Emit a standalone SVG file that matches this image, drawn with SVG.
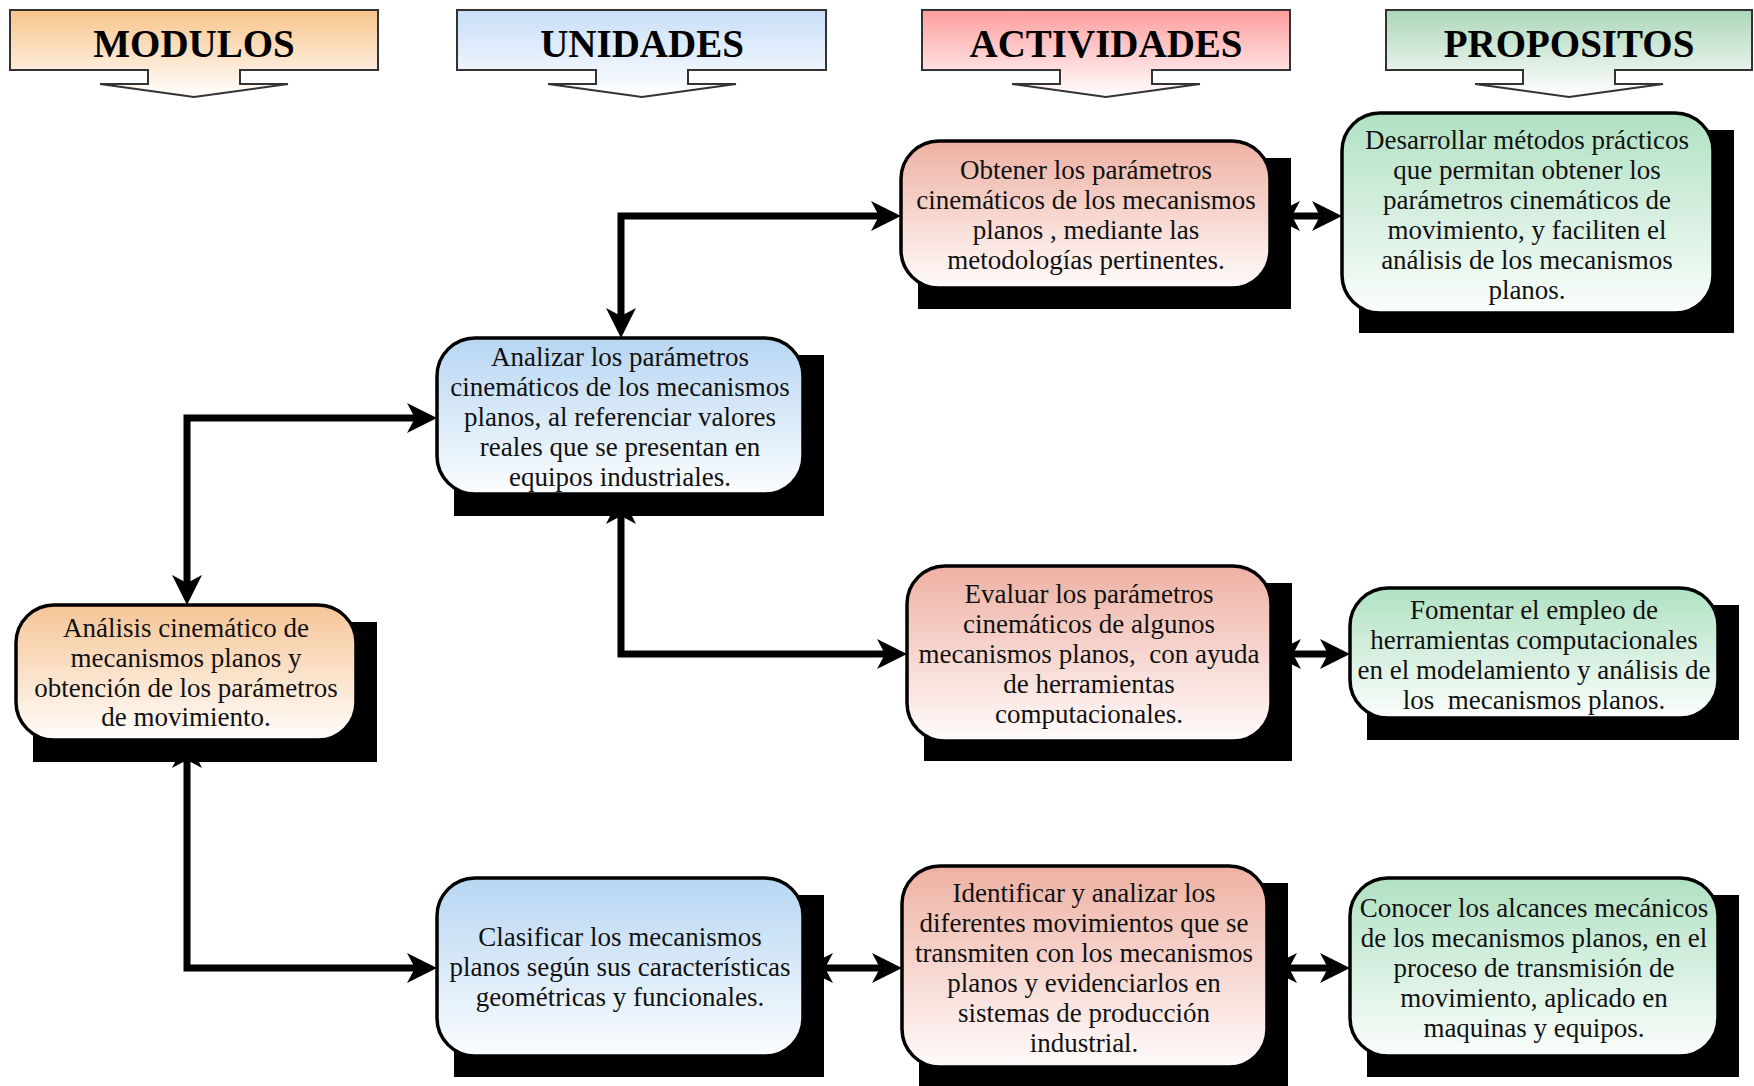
<svg xmlns="http://www.w3.org/2000/svg" width="1754" height="1086" viewBox="0 0 1754 1086">
<style>
.hdr{stroke:#333;stroke-width:2}
.ht{font-family:"Liberation Serif",serif;font-weight:bold;font-size:39px;fill:#000;text-anchor:middle}
.sh{fill:#000}
.nd{stroke:#000;stroke-width:3.5}
.t{font-family:"Liberation Serif",serif;font-size:27px;fill:#111;text-anchor:middle;white-space:pre}
.cn{fill:none;stroke:#000;stroke-width:7;stroke-linejoin:miter}
</style>
<defs>
<linearGradient id="gO" x1="0" y1="0" x2="0" y2="1"><stop offset="0" stop-color="#f8c48a"/><stop offset="1" stop-color="#ffffff"/></linearGradient>
<linearGradient id="gB" x1="0" y1="0" x2="0" y2="1"><stop offset="0" stop-color="#c8def8"/><stop offset="1" stop-color="#ffffff"/></linearGradient>
<linearGradient id="gR" x1="0" y1="0" x2="0" y2="1"><stop offset="0" stop-color="#ff9d9d"/><stop offset="1" stop-color="#ffffff"/></linearGradient>
<linearGradient id="gG" x1="0" y1="0" x2="0" y2="1"><stop offset="0" stop-color="#acd6b9"/><stop offset="1" stop-color="#ffffff"/></linearGradient>
<linearGradient id="nO" x1="0" y1="0" x2="0" y2="1"><stop offset="0" stop-color="#f6c597"/><stop offset="1" stop-color="#fffdfb"/></linearGradient>
<linearGradient id="nB" x1="0" y1="0" x2="0" y2="1"><stop offset="0" stop-color="#b7d6f2"/><stop offset="1" stop-color="#fbfdff"/></linearGradient>
<linearGradient id="nR" x1="0" y1="0" x2="0" y2="1"><stop offset="0" stop-color="#eeb1a3"/><stop offset="1" stop-color="#fffbfb"/></linearGradient>
<linearGradient id="nG" x1="0" y1="0" x2="0" y2="1"><stop offset="0" stop-color="#b0e1c3"/><stop offset="1" stop-color="#fbfefc"/></linearGradient>
<marker id="ah" viewBox="-10 -17 34 34" refX="0" refY="0" markerWidth="34" markerHeight="34" markerUnits="userSpaceOnUse" orient="auto-start-reverse">
<path d="M-8,-15 L22,0 L-8,15 L0,0 Z" fill="#000"/>
</marker>
</defs>
<rect width="1754" height="1086" fill="#fff"/>

<g id="headers">
<g id="h-modulos">
<path class="hdr" fill="url(#gO)" d="M10,10 H378 V70 H240 V84 H288 L194,97 L100,84 H148 V70 H10 Z"/>
<text class="ht" x="194" y="57">MODULOS</text>
</g>
<g id="h-unidades">
<path class="hdr" fill="url(#gB)" d="M457,10 H826 V70 H688 V84 H736 L642,97 L548,84 H596 V70 H457 Z"/>
<text class="ht" x="642" y="57">UNIDADES</text>
</g>
<g id="h-actividades">
<path class="hdr" fill="url(#gR)" d="M922,10 H1290 V70 H1152 V84 H1200 L1106,97 L1012,84 H1060 V70 H922 Z"/>
<text class="ht" x="1106" y="57">ACTIVIDADES</text>
</g>
<g id="h-propositos">
<path class="hdr" fill="url(#gG)" d="M1386,10 H1752 V70 H1615 V84 H1663 L1569,97 L1475,84 H1523 V70 H1386 Z"/>
<text class="ht" x="1569" y="57">PROPOSITOS</text>
</g>
</g>

<g id="connectors">
<path class="cn" d="M187,583 L187,418 L415,418" marker-start="url(#ah)" marker-end="url(#ah)"/>
<path class="cn" d="M621,316 L621,216 L879,216" marker-start="url(#ah)" marker-end="url(#ah)"/>
<path class="cn" d="M621,516 L621,654 L885,654" marker-start="url(#ah)" marker-end="url(#ah)"/>
<path class="cn" d="M187,760 L187,968 L415,968" marker-start="url(#ah)" marker-end="url(#ah)"/>
<path class="cn" d="M1292,216 L1320,216" marker-start="url(#ah)" marker-end="url(#ah)"/>
<path class="cn" d="M1293,654 L1328,654" marker-start="url(#ah)" marker-end="url(#ah)"/>
<path class="cn" d="M825,968 L880,968" marker-start="url(#ah)" marker-end="url(#ah)"/>
<path class="cn" d="M1289,968 L1328,968" marker-start="url(#ah)" marker-end="url(#ah)"/>
</g>

<g id="n-analisis">
<rect class="sh" x="33" y="622" width="344" height="140"/>
<rect class="nd" x="16" y="605" width="340" height="135" rx="38" fill="url(#nO)"/>
<text class="t" x="186" y="637">Análisis cinemático de</text>
<text class="t" x="186" y="667">mecanismos planos y</text>
<text class="t" x="186" y="697">obtención de los parámetros</text>
<text class="t" x="186" y="726">de movimiento.</text>
</g>

<g id="n-analizar">
<rect class="sh" x="454" y="355" width="370" height="161"/>
<rect class="nd" x="437" y="338" width="366" height="156" rx="38" fill="url(#nB)"/>
<text class="t" x="620" y="366">Analizar los parámetros</text>
<text class="t" x="620" y="396">cinemáticos de los mecanismos</text>
<text class="t" x="620" y="426">planos, al referenciar valores</text>
<text class="t" x="620" y="456">reales que se presentan en</text>
<text class="t" x="620" y="486">equipos industriales.</text>
</g>

<g id="n-clasificar">
<rect class="sh" x="454" y="895" width="370" height="182"/>
<rect class="nd" x="437" y="878" width="366" height="178" rx="38" fill="url(#nB)"/>
<text class="t" x="620" y="946">Clasificar los mecanismos</text>
<text class="t" x="620" y="976">planos según sus características</text>
<text class="t" x="620" y="1006">geométricas y funcionales.</text>
</g>

<g id="n-obtener">
<rect class="sh" x="918" y="158" width="373" height="151"/>
<rect class="nd" x="901" y="141" width="369" height="147" rx="38" fill="url(#nR)"/>
<text class="t" x="1086" y="179">Obtener los parámetros</text>
<text class="t" x="1086" y="209">cinemáticos de los mecanismos</text>
<text class="t" x="1086" y="239">planos , mediante las</text>
<text class="t" x="1086" y="269">metodologías pertinentes.</text>
</g>

<g id="n-evaluar">
<rect class="sh" x="924" y="583" width="368" height="178"/>
<rect class="nd" x="907" y="566" width="364" height="175" rx="38" fill="url(#nR)"/>
<text class="t" x="1089" y="603">Evaluar los parámetros</text>
<text class="t" x="1089" y="633">cinemáticos de algunos</text>
<text class="t" x="1089" y="663">mecanismos planos,  con ayuda</text>
<text class="t" x="1089" y="693">de herramientas</text>
<text class="t" x="1089" y="723">computacionales.</text>
</g>

<g id="n-identificar">
<rect class="sh" x="919" y="883" width="369" height="203"/>
<rect class="nd" x="902" y="866" width="365" height="201" rx="38" fill="url(#nR)"/>
<text class="t" x="1084" y="902">Identificar y analizar los</text>
<text class="t" x="1084" y="932">diferentes movimientos que se</text>
<text class="t" x="1084" y="962">transmiten con los mecanismos</text>
<text class="t" x="1084" y="992">planos y evidenciarlos en</text>
<text class="t" x="1084" y="1022">sistemas de producción</text>
<text class="t" x="1084" y="1052">industrial.</text>
</g>

<g id="n-desarrollar">
<rect class="sh" x="1359" y="130" width="375" height="203"/>
<rect class="nd" x="1342" y="113" width="371" height="200" rx="38" fill="url(#nG)"/>
<text class="t" x="1527" y="149">Desarrollar métodos prácticos</text>
<text class="t" x="1527" y="179">que permitan obtener los</text>
<text class="t" x="1527" y="209">parámetros cinemáticos de</text>
<text class="t" x="1527" y="239">movimiento, y faciliten el</text>
<text class="t" x="1527" y="269">análisis de los mecanismos</text>
<text class="t" x="1527" y="299">planos.</text>
</g>

<g id="n-fomentar">
<rect class="sh" x="1367" y="605" width="372" height="135"/>
<rect class="nd" x="1350" y="588" width="368" height="130" rx="38" fill="url(#nG)"/>
<text class="t" x="1534" y="619">Fomentar el empleo de</text>
<text class="t" x="1534" y="649">herramientas computacionales</text>
<text class="t" x="1534" y="679">en el modelamiento y análisis de</text>
<text class="t" x="1534" y="709">los  mecanismos planos.</text>
</g>

<g id="n-conocer">
<rect class="sh" x="1367" y="895" width="372" height="182"/>
<rect class="nd" x="1350" y="878" width="368" height="178" rx="38" fill="url(#nG)"/>
<text class="t" x="1534" y="917">Conocer los alcances mecánicos</text>
<text class="t" x="1534" y="947">de los mecanismos planos, en el</text>
<text class="t" x="1534" y="977">proceso de transmisión de</text>
<text class="t" x="1534" y="1007">movimiento, aplicado en</text>
<text class="t" x="1534" y="1037">maquinas y equipos.</text>
</g>
</svg>
